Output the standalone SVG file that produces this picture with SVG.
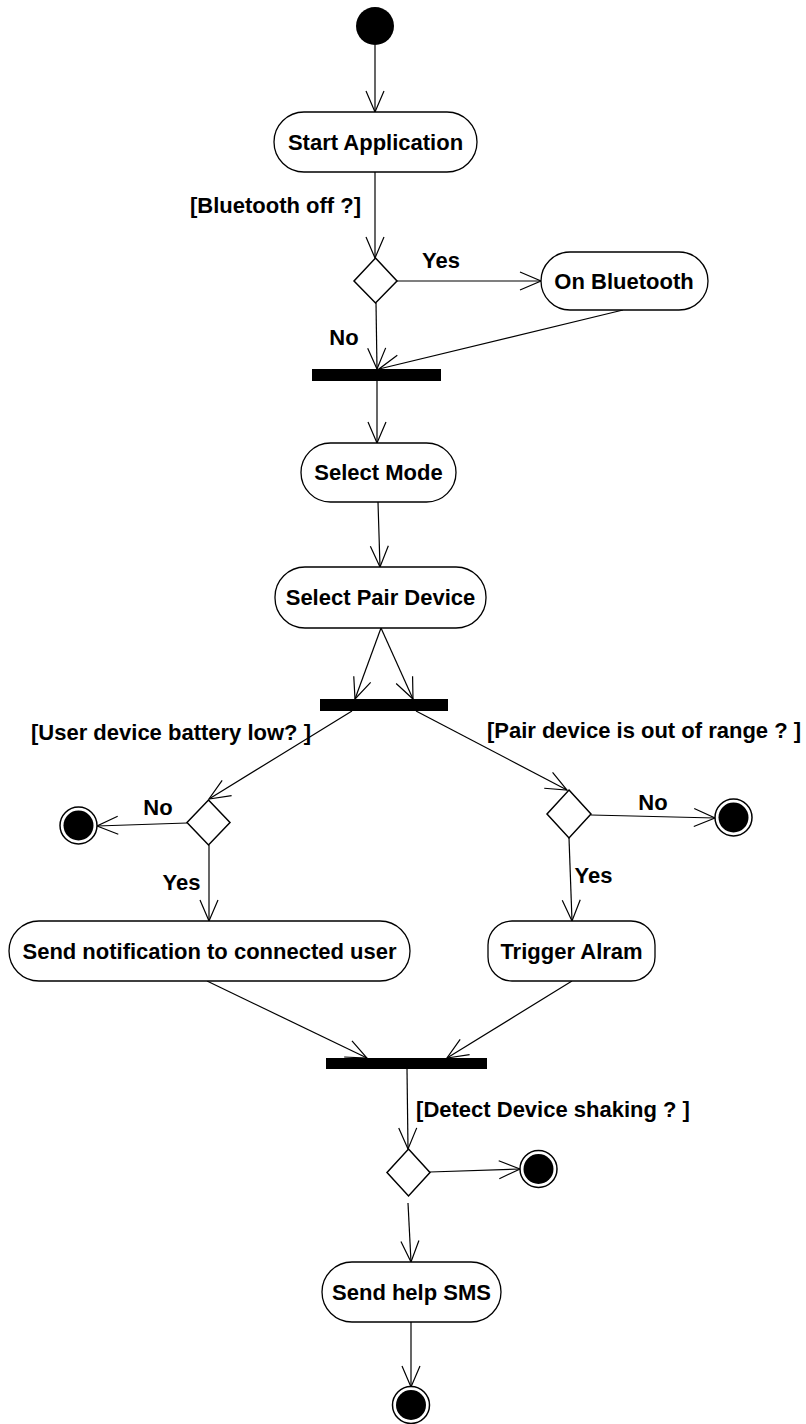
<svg xmlns="http://www.w3.org/2000/svg" width="806" height="1424" viewBox="0 0 806 1424">
  <style>
    .act { fill: #ffffff; stroke: #000000; stroke-width: 1.3; }
    .dec { fill: #ffffff; stroke: #000000; stroke-width: 1.5; }
    .bar { fill: #000000; }
    .txt { font-family: "Liberation Sans", Arial, sans-serif; font-weight: bold; font-size: 22px; fill: #000000; text-anchor: middle; }
    .edge { fill: none; stroke: #000000; stroke-width: 1.2; marker-end: url(#arr); }
    .plain { fill: none; stroke: #000000; stroke-width: 1.2; }
    .fring { fill: #ffffff; stroke: #000000; stroke-width: 1.5; }
  </style>
  <defs>
    <marker id="arr" viewBox="-23 -11 25 22" refX="0" refY="0" markerWidth="25" markerHeight="22" markerUnits="userSpaceOnUse" orient="auto">
      <path d="M-21,-9 L0,0 L-21,9" fill="none" stroke="#000000" stroke-width="1.2"/>
    </marker>
  </defs>
  <rect x="0" y="0" width="806" height="1424" fill="#ffffff"/>

  <g id="connectors">
    <path class="edge" d="M375,45 L375,112"/>
    <path class="edge" d="M375,172 L375,258"/>
    <path class="edge" d="M397,281 L541,281"/>
    <path class="edge" d="M376,303 L377,369"/>
    <path class="edge" d="M623,310 L379,369"/>
    <path class="edge" d="M377,381 L377,443"/>
    <path class="edge" d="M378,502 L380,567"/>
    <path class="edge" d="M381,628 L355,699"/>
    <path class="edge" d="M381,628 L413,699"/>
    <path class="edge" d="M352,711 L209,799"/>
    <path class="edge" d="M416,711 L567,790"/>
    <path class="edge" d="M187,823 L97,826"/>
    <path class="edge" d="M209,845 L209,921"/>
    <path class="edge" d="M591,815 L715,818"/>
    <path class="edge" d="M569,838 L572,921"/>
    <path class="edge" d="M207,981 L367,1058"/>
    <path class="edge" d="M572,981 L447,1058"/>
    <path class="edge" d="M407,1069 L408,1149"/>
    <path class="edge" d="M430,1172 L520,1169"/>
    <path class="edge" d="M408,1203 L411,1262"/>
    <path class="edge" d="M411,1322 L411,1387"/>
  </g>

  <g id="start">
    <circle cx="375" cy="26" r="19" fill="#000000"/>
  </g>

  <g id="start-application">
    <rect class="act" x="274" y="112" width="203" height="60" rx="30" ry="30"/>
    <text class="txt" x="375.5" y="150">Start Application</text>
  </g>

  <g id="label-bluetooth-off">
    <text class="txt" x="275.5" y="213">[Bluetooth off ?]</text>
  </g>

  <g id="decision-bluetooth">
    <polygon class="dec" points="375.5,258 397,281 375.5,303 354,281"/>
  </g>

  <g id="label-yes-1"><text class="txt" x="441" y="268">Yes</text></g>
  <g id="label-no-1"><text class="txt" x="344" y="345">No</text></g>

  <g id="on-bluetooth">
    <rect class="act" x="541" y="252" width="167" height="58" rx="29" ry="29"/>
    <text class="txt" x="624" y="289">On Bluetooth</text>
  </g>

  <g id="join-1">
    <rect class="bar" x="312" y="369" width="129" height="12"/>
  </g>

  <g id="select-mode">
    <rect class="act" x="301" y="443" width="155" height="59" rx="29.5" ry="29.5"/>
    <text class="txt" x="378.5" y="480">Select Mode</text>
  </g>

  <g id="select-pair-device">
    <rect class="act" x="275" y="567" width="211" height="61" rx="30" ry="30"/>
    <text class="txt" x="380.5" y="605">Select Pair Device</text>
  </g>

  <g id="fork-2">
    <rect class="bar" x="320" y="699" width="128" height="12"/>
  </g>

  <g id="label-battery-low"><text class="txt" x="171" y="740">[User device battery low? ]</text></g>
  <g id="label-out-of-range"><text class="txt" x="644" y="738">[Pair device is out of range ? ]</text></g>

  <g id="decision-battery">
    <polygon class="dec" points="208.5,800 230,822.5 208.5,845 187,822.5"/>
  </g>
  <g id="label-no-left"><text class="txt" x="158" y="815">No</text></g>
  <g id="label-yes-left"><text class="txt" x="181.5" y="890">Yes</text></g>

  <g id="final-left">
    <circle class="fring" cx="78.5" cy="825.5" r="18.5"/>
    <circle cx="78.5" cy="825.5" r="15" fill="#000000"/>
  </g>

  <g id="decision-range">
    <polygon class="dec" points="569,790 591,814 569,838 547,814"/>
  </g>
  <g id="label-no-right"><text class="txt" x="653" y="810">No</text></g>
  <g id="label-yes-right"><text class="txt" x="593.5" y="883">Yes</text></g>

  <g id="final-right">
    <circle class="fring" cx="733.5" cy="817.5" r="18.5"/>
    <circle cx="733.5" cy="817.5" r="15" fill="#000000"/>
  </g>

  <g id="send-notification">
    <rect class="act" x="9" y="921" width="401" height="60" rx="30" ry="30"/>
    <text class="txt" x="209.5" y="959">Send notification to connected user</text>
  </g>

  <g id="trigger-alarm">
    <rect class="act" x="488" y="921" width="167" height="60" rx="24" ry="24"/>
    <text class="txt" x="571.5" y="959">Trigger Alram</text>
  </g>

  <g id="join-3">
    <rect class="bar" x="326" y="1058" width="161" height="11"/>
  </g>

  <g id="label-shaking"><text class="txt" x="553" y="1117">[Detect Device shaking ? ]</text></g>

  <g id="decision-shaking">
    <polygon class="dec" points="408.5,1149 430,1172.5 408.5,1196 387,1172.5"/>
  </g>

  <g id="final-shaking">
    <circle class="fring" cx="538.5" cy="1169" r="18.5"/>
    <circle cx="538.5" cy="1169" r="15" fill="#000000"/>
  </g>

  <g id="send-help-sms">
    <rect class="act" x="322" y="1262" width="179" height="60" rx="30" ry="30"/>
    <text class="txt" x="411.5" y="1300">Send help SMS</text>
  </g>

  <g id="final-bottom">
    <circle class="fring" cx="411" cy="1405" r="18.5"/>
    <circle cx="411" cy="1405" r="15" fill="#000000"/>
  </g>
</svg>
